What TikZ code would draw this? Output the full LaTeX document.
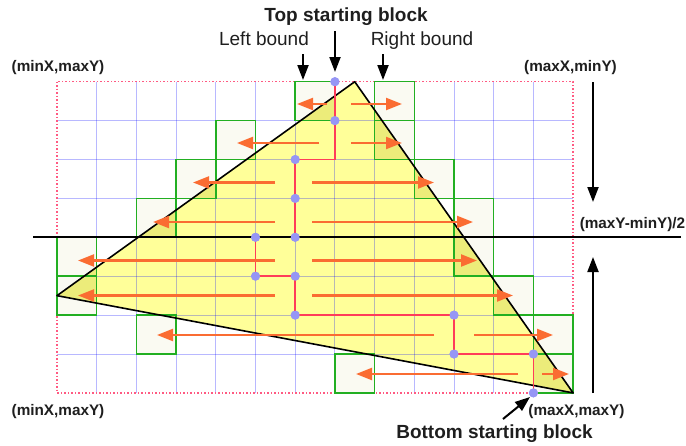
\documentclass[tikz,border=0pt]{standalone}
\usepackage{fontspec}
\setmainfont{Liberation Sans}
\usetikzlibrary{arrows.meta}
\definecolor{gridblue}{RGB}{0,0,255}
\definecolor{triyellow}{RGB}{255,255,153}
\definecolor{cellfill}{RGB}{250,250,242}
\definecolor{celltri}{RGB}{236,236,122}
\definecolor{cellgreen}{RGB}{34,175,34}
\definecolor{pathred}{RGB}{255,60,90}
\definecolor{dotblue}{RGB}{150,150,245}
\definecolor{arrorange}{RGB}{250,108,50}
\definecolor{borderpink}{RGB}{255,90,130}
\definecolor{txt}{RGB}{30,30,30}
\begin{document}
\begin{tikzpicture}[x={(1pt,0)},y={(0,-1pt)},
  bigtext/.style={font=\fontsize{19}{22}\selectfont, text=txt, inner sep=0pt, anchor=base},
  bigbold/.style={font=\fontsize{19}{22}\selectfont\bfseries, text=txt, inner sep=0pt, anchor=base},
  coordlbl/.style={font=\fontsize{15.3}{18}\selectfont\bfseries, text=txt, inner sep=0pt, anchor=base},
  blackarrow/.style={draw=black, line width=2pt, -{Triangle[length=15pt,width=11pt]}},
  orangearrow/.style={draw=arrorange, line width=2.2pt, -{Triangle[length=16pt,width=12pt]}},
  gridline/.style={draw=gridblue, draw opacity=0.28, line width=1pt},
  greencell/.style={draw=cellgreen, line width=1.5pt},
  redpath/.style={draw=pathred, line width=1.8pt},
  bluedot/.style={circle, fill=dotblue, minimum size=9pt, inner sep=0pt},
]
\useasboundingbox (0,0) rectangle (686,445);

\begin{scope}[shift={(57,81.7)}, x={(39.7pt,0)}, y={(0,-38.9pt)}]
  % triangle fill
  \coordinate (tA) at (7.5,0);
  \coordinate (tB) at (0,5.5);
  \coordinate (tC) at (13,8);
  \fill[triyellow] (tA) -- (tB) -- (tC) -- cycle;
  % green cells fill
  \foreach \i/\j in {6/0,8/0,4/1,8/1,3/2,9/2,2/3,10/3,0/4,10/4,0/5,11/5,2/6,12/6,7/7,12/7}
    \fill[cellfill] (\i,\j) rectangle ++(1,1);
  \begin{scope}
    \clip (tA) -- (tB) -- (tC) -- cycle;
    \foreach \i/\j in {6/0,8/0,4/1,8/1,3/2,9/2,2/3,10/3,0/4,10/4,0/5,11/5,2/6,12/6,7/7,12/7}
      \fill[celltri] (\i,\j) rectangle ++(1,1);
  \end{scope}
  % grid
  \foreach \i in {1,...,12} \draw[gridline] (\i,0) -- (\i,8);
  \foreach \j in {1,...,7} \draw[gridline] (0,\j) -- (13,\j);
  % dotted border
  \draw[borderpink, dotted, line width=1.5pt] (0,0) rectangle (13,8);
  % green cell outlines
  \foreach \i/\j in {6/0,8/0,4/1,8/1,3/2,9/2,2/3,10/3,0/4,10/4,0/5,11/5,2/6,12/6,7/7,12/7}
    \draw[greencell] (\i,\j) rectangle ++(1,1);
  % triangle outline
  \draw[black, line width=1.6pt, line join=round] (tA) -- (tB) -- (tC) -- cycle;
  % dots (named)
  \node[bluedot] (d1) at (7,0) {};
  \node[bluedot] (d2) at (7,1) {};
  \node[bluedot] (d3) at (6,2) {};
  \node[bluedot] (d4) at (6,3) {};
  \node[bluedot] (d5) at (6,4) {};
  \node[bluedot] (d6) at (5,4) {};
  \node[bluedot] (d7) at (5,5) {};
  \node[bluedot] (d8) at (6,5) {};
  \node[bluedot] (d9) at (6,6) {};
  \node[bluedot] (d10) at (10,6) {};
  \node[bluedot] (d11) at (10,7) {};
  \node[bluedot] (d12) at (12,7) {};
  \node[bluedot] (d13) at (12,8) {};
  \coordinate (c1) at (7,2);
\end{scope}

% midline
\coordinate (ml) at (33,237);
\coordinate (mr) at (681,237);
\draw[black, line width=1.5pt] (ml) -- (mr);

% red path (dots redrawn on top)
\draw[redpath] (d1.center) -- (d2.center) -- (c1) -- (d3.center) -- (d4.center) -- (d5.center);
\draw[redpath] (d13.center) -- (d12.center) -- (d11.center) -- (d10.center) -- (d9.center) -- (d8.center) -- (d7.center) -- (d6.center);
\foreach \n in {1,...,13} \fill[dotblue] (d\n) circle[radius=4.5pt];

% orange arrows
\foreach \yy/\la/\lb/\ra/\rb [count=\k] in {
  104/327/297/351/402,
  143/319/237/351/402,
  182.5/275/193/312/434,
  222/275/153/312/473,
  260.5/275/78/312/477,
  295.5/275/78/312/513,
  335/434/157/474/553,
  374/518/356/542/569}{
  \coordinate (ls\k) at (\la,\yy);
  \coordinate (le\k) at (\lb,\yy);
  \coordinate (rs\k) at (\ra,\yy);
  \coordinate (re\k) at (\rb,\yy);
  \draw[orangearrow] (ls\k) -- (le\k);
  \draw[orangearrow] (rs\k) -- (re\k);
}

% texts
\node[bigbold] (toplbl) at (346,21.7) {Top starting block};
\node[bigtext] (leftlbl) at (264,45.7) {Left bound};
\node[bigtext] (rightlbl) at (422,45.7) {Right bound};
\node[coordlbl] (tl) at (58,71) {(minX,maxY)};
\node[coordlbl] (tr) at (570.5,71) {(maxX,minY)};
\node[coordlbl] (mid) at (632.5,228.3) {(maxY-minY)/2};
\node[coordlbl] (bl) at (58,415) {(minX,maxY)};
\node[coordlbl] (br) at (576.5,415) {(maxX,maxY)};
\node[bigbold] (botlbl) at (494.5,438) {Bottom starting block};

% black arrows
\coordinate (tsa) at (335,31);  \coordinate (tsb) at (335,72);
\coordinate (lba) at (303,54);  \coordinate (lbb) at (303,80);
\coordinate (rba) at (383,54);  \coordinate (rbb) at (383,80);
\coordinate (dna) at (593,82);  \coordinate (dnb) at (593,202);
\coordinate (upa) at (593,393); \coordinate (upb) at (593,257);
\coordinate (bsa) at (503,419); \coordinate (bsb) at (530,397);
\draw[blackarrow] (tsa) -- (tsb);
\draw[blackarrow] (lba) -- (lbb);
\draw[blackarrow] (rba) -- (rbb);
\draw[blackarrow] (dna) -- (dnb);
\draw[blackarrow] (upa) -- (upb);
\draw[blackarrow] (bsa) -- (bsb);
\end{tikzpicture}
\end{document}
